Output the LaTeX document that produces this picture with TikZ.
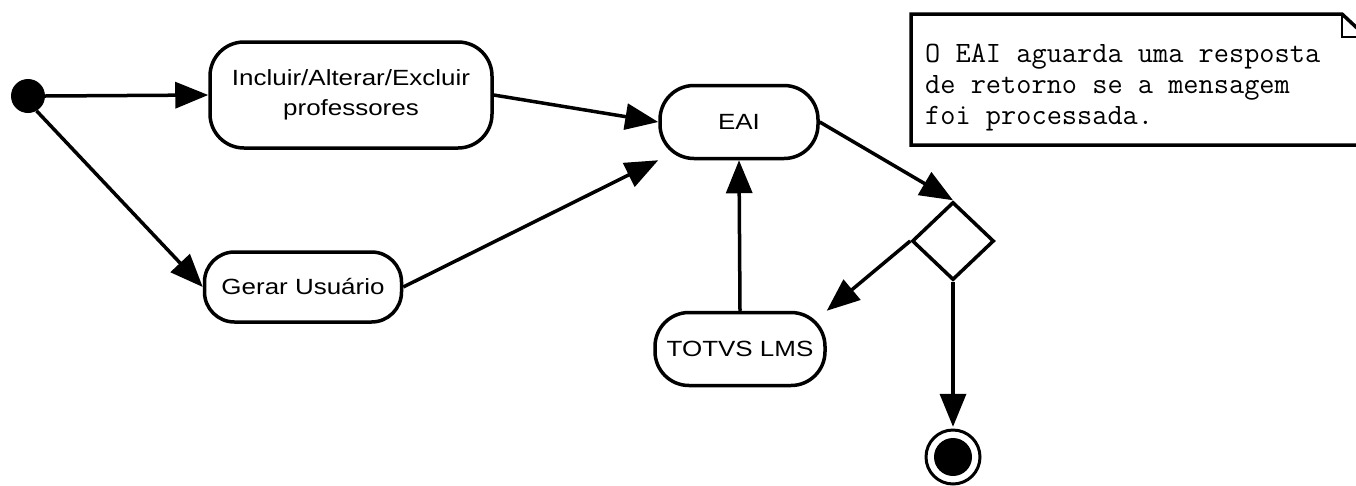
\documentclass[tikz,border=0pt]{standalone}
\usepackage{fontspec}
\setmainfont{Liberation Sans}
\newfontfamily\labfont[FakeStretch=1.18]{Liberation Sans}
\usetikzlibrary{arrows.meta,shapes.geometric}
\begin{document}
\begin{tikzpicture}[x=1pt,y=-1pt,
  act/.style={draw,line width=3.5pt,rounded corners=34pt,align=center,font=\labfont\fontsize{22}{30}\selectfont,inner sep=0pt},
  flow/.style={line width=3.5pt,-{Triangle[length=33pt,width=26pt]}},
  dec/.style={draw,diamond,line width=3.5pt,minimum width=82pt,minimum height=78pt,inner sep=0pt}]
\useasboundingbox (0,0) rectangle (1356,485);
\clip (0,0) rectangle (1356,485);
\fill (28,96) circle (17pt);
\node[circle,minimum size=34pt,inner sep=0pt] (start) at (28,96) {};
\node[act,minimum width=282pt,minimum height=106pt] (inc) at (351,95) {Incluir/Alterar/Excluir\\professores};
\node[act,minimum width=158pt,minimum height=73pt] (eai) at (739,122) {EAI};
\node[act,minimum width=197pt,minimum height=70pt,rounded corners=30pt] (ger) at (303,287) {Gerar Usuário};
\node[act,minimum width=170pt,minimum height=73pt] (tot) at (740,349) {TOTVS LMS};
\node[dec] (d) at (953,241) {};
\draw[line width=3pt] (953,457) circle (27pt);
\fill (953,457) circle (19pt);
\node[circle,minimum size=60pt,inner sep=0pt] (end) at (953,457) {};
% note
\draw[line width=3.5pt,fill=white] (911,14) -- (1342,14) -- (1372,42) -- (1372,145) -- (911,145) -- cycle;
\draw[line width=2pt] (1342,14) -- (1342,37) -- (1372,37);
\node[anchor=north west,align=left,font=\ttfamily\fontsize{29.5}{31}\selectfont,inner sep=0pt] (note) at (925,44) {O EAI aguarda uma resposta\\de retorno se a mensagem\\foi processada.};
% connectors
\draw[flow] (start.east) -- (inc.west);
\draw[flow] (start.-60) -- (ger.west);
\draw[flow] (inc.east) -- (eai.west);
\draw[flow] (ger.east) -- (eai.south west);
\draw[flow] (eai.east) -- (d.north);
\draw[flow] (tot.north) -- (eai.south);
\draw[flow] (d.west) -- (tot.north east);
\draw[flow] (d.south) -- (end.north);
\end{tikzpicture}
\end{document}
